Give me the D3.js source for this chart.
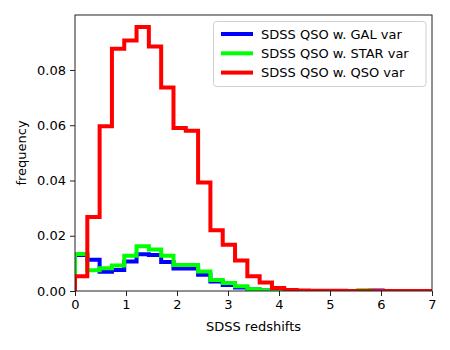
<!DOCTYPE html>
<html><head><meta charset="utf-8">
<script src="https://cdn.jsdelivr.net/npm/d3@7"></script>
<style>body{margin:0;background:#fff;}svg text{font-family:"DejaVu Sans",sans-serif;}</style>
</head><body>
<svg id="c" width="450" height="350"></svg>
<script>
const binCount = 29;
const xMin = 0, xMax = 7;
const seriesNames = ["SDSS QSO w. GAL var", "SDSS QSO w. STAR var", "SDSS QSO w. QSO var"];
const seriesColors = ["#0000ff", "#00ff00", "#ff0000"];
const galVar = [0.0130,0.0113,0.0070,0.0076,0.0107,0.0133,0.0130,0.0105,0.0081,0.0081,0.0059,0.0034,0.0022,0.0013,0.0005,0.0002,0.0001,0,0,0,0,0,0,0,0.0002,0,0,0,0];
const starVar = [0.0134,0.0075,0.0082,0.0092,0.0128,0.0162,0.0150,0.0128,0.0094,0.0094,0.0071,0.0040,0.0029,0.0017,0.0006,0.0002,0.0001,0,0,0,0,0,0,0.0003,0,0,0,0,0];
const qsoVar = [0.0053,0.0268,0.0596,0.0877,0.0907,0.0956,0.0885,0.0737,0.0590,0.0580,0.0393,0.0220,0.0167,0.0110,0.0053,0.0031,0.0011,0.0004,0.0002,0.0001,0.0001,0.0001,0,0,0,0,0,0,0];
const xTicks = [0,1,2,3,4,5,6,7];
const yTicks = [0,0.02,0.04,0.06,0.08];
const yMax = 0.0999;

const svg = d3.select("#c");
const L = 75, R = 432, T = 15, B = 291;
const x = d3.scaleLinear().domain([xMin, xMax]).range([L, R]);
const y = d3.scaleLinear().domain([0, yMax]).range([B, T]);

svg.append("defs").append("clipPath").attr("id","clip")
  .append("rect").attr("x",L).attr("y",T).attr("width",R-L).attr("height",B-T);

const w = (xMax - xMin) / binCount;
function stepPts(vals){
  const pts = [[xMin, 0]];
  vals.forEach((v,i)=>{ pts.push([xMin+i*w, v]); pts.push([xMin+(i+1)*w, v]); });
  pts.push([xMax, 0]);
  return pts;
}
const line = d3.line().x(d=>x(d[0])).y(d=>y(d[1]));
const g = svg.append("g").attr("clip-path","url(#clip)");
[galVar, starVar, qsoVar].forEach((vals,i)=>{
  g.append("path").attr("d", line(stepPts(vals))).attr("fill","none")
   .attr("stroke", seriesColors[i]).attr("stroke-width",4).attr("stroke-linejoin","miter");
});

const fs = 13;
const xa = svg.append("g").attr("transform",`translate(0,${B})`)
  .call(d3.axisBottom(x).tickValues(xTicks).tickFormat(d3.format("d")).tickSize(5).tickPadding(4));
const ya = svg.append("g").attr("transform",`translate(${L},0)`)
  .call(d3.axisLeft(y).tickValues(yTicks).tickFormat(d3.format(".2f")).tickSize(5).tickPadding(4));
[xa,ya].forEach(a=>{
  a.select(".domain").remove();
  a.selectAll("line").attr("stroke","#222");
  a.selectAll("text").attr("font-size",fs).attr("fill","#000").style("font-family","DejaVu Sans");
});
svg.append("rect").attr("x",L).attr("y",T).attr("width",R-L).attr("height",B-T)
  .attr("fill","none").attr("stroke","#222").attr("stroke-width",1);

svg.append("text").attr("x",(L+R)/2).attr("y",331).attr("text-anchor","middle")
  .attr("font-size",fs).text("SDSS redshifts");
svg.append("text").attr("transform",`translate(26,${(T+B)/2}) rotate(-90)`).attr("text-anchor","middle")
  .attr("font-size",fs).text("frequency");

const lg = svg.append("g");
lg.append("rect").attr("x",213.5).attr("y",21.5).attr("width",212.5).attr("height",65)
  .attr("rx",3).attr("fill","#fff").attr("fill-opacity",0.8).attr("stroke","#d0d0d0");
seriesNames.forEach((n,i)=>{
  const yy = 34 + i*19.3;
  lg.append("line").attr("x1",221).attr("x2",253).attr("y1",yy).attr("y2",yy)
    .attr("stroke",seriesColors[i]).attr("stroke-width",4);
  lg.append("text").attr("x",261).attr("y",yy).attr("dy","0.35em").attr("font-size",fs).text(n);
});
</script>
</body></html>
